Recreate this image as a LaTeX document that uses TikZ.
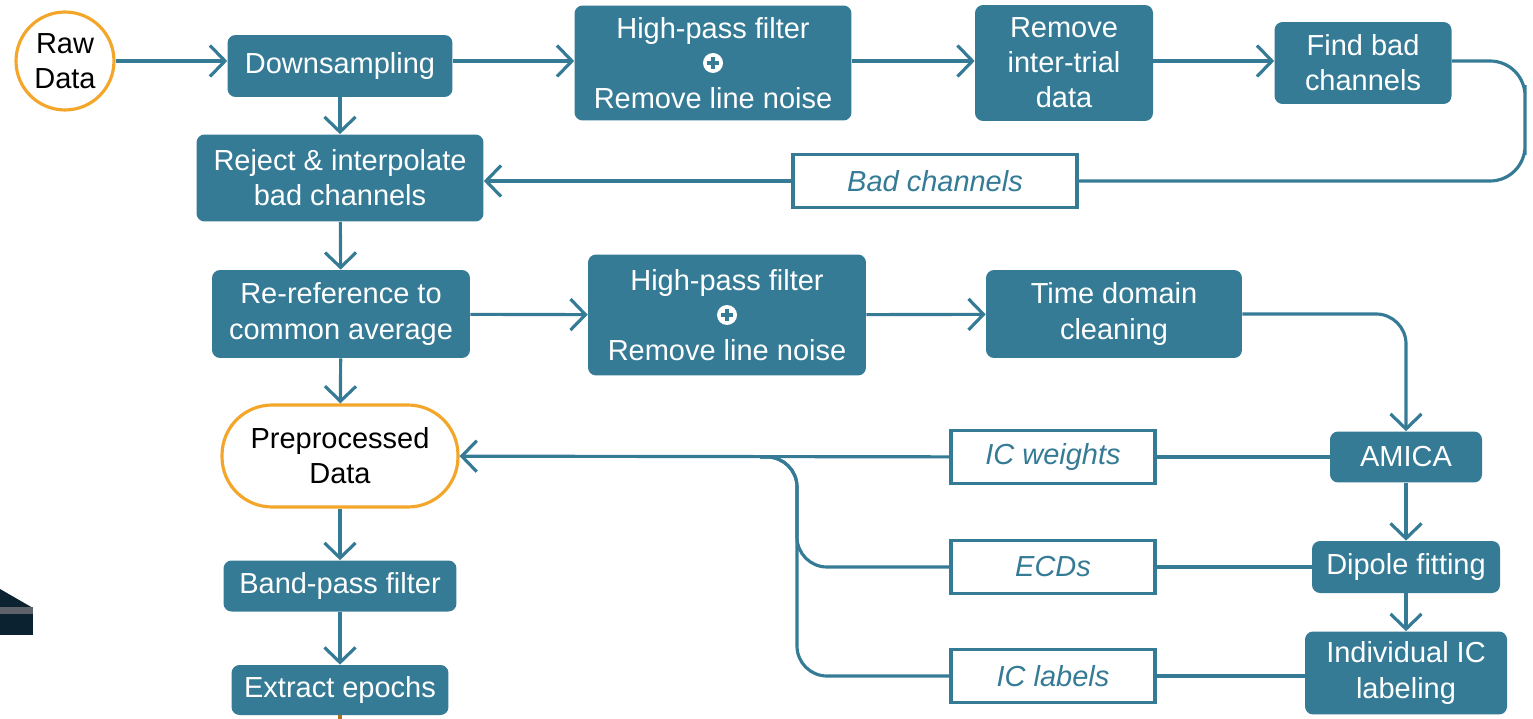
\documentclass[tikz,border=0pt]{standalone}
\usepackage{fontspec}
\setmainfont{Liberation Sans}
\usetikzlibrary{arrows.meta}

\definecolor{teal}{HTML}{357B96}
\definecolor{gold}{HTML}{F4A62A}
\definecolor{navy}{HTML}{0B2231}

\tikzset{
	txt/.style={font=\fontsize{16.5}{20}\selectfont, align=center, inner sep=2pt},
	stage/.style={txt, fill=teal, text=white, rounded corners=0.16cm},
	datum/.style={txt, draw=teal, line width=1.8pt, fill=white, text=teal, font=\fontsize{16.5}{20}\selectfont\itshape, minimum width=4.08cm, minimum height=1.06cm},
	source/.style={txt, draw=gold, line width=1.8pt, fill=white, text=black},
	line/.style={draw=teal, line width=1.8pt},
	flow/.style={line, arrows={-Straight Barb[length=0.3cm,width=0.62cm]}},
	plusmark/.style={circle, fill=white, minimum size=0.4cm, inner sep=0pt,
		path picture={\draw[teal, line width=2pt] ([xshift=-0.12cm]path picture bounding box.center) -- ([xshift=0.12cm]path picture bounding box.center) ([yshift=-0.12cm]path picture bounding box.center) -- ([yshift=0.12cm]path picture bounding box.center);}}
}

\begin{document}
\begin{tikzpicture}[x=0.02cm, y=-0.02cm]
	\useasboundingbox (0,0) rectangle (1533,719);
	\node [source, circle, minimum size=1.96cm] (raw) at (65,61) {Raw\\Data};
	\node [stage, minimum width=4.5cm, minimum height=1.24cm] (down) at (340,66) {Downsampling};
	\node [stage, minimum width=5.54cm, minimum height=2.3cm] (hpA) at (713,63) {High-pass filter\\[20pt]Remove line noise};
	\node [plusmark] (hpAplus) at (hpA.center) {};
	\node [stage, minimum width=3.56cm, minimum height=2.32cm] (trial) at (1064,63) {Remove\\inter-trial\\data};
	\node [stage, minimum width=3.54cm, minimum height=1.64cm] (findbad) at (1363,63) {Find bad\\channels};
	\node [datum, minimum width=5.68cm] (badch) at (935,181) {Bad channels};
	\node [stage, minimum width=5.74cm, minimum height=1.74cm] (reject) at (340,178) {Reject \& interpolate\\bad channels};
	\node [stage, minimum width=5.16cm, minimum height=1.76cm] (reref) at (341,314) {Re-reference to\\common average};
	\node [stage, minimum width=5.56cm, minimum height=2.42cm] (hpB) at (727,315) {High-pass filter\\[20pt]Remove line noise};
	\node [plusmark] (hpBplus) at (hpB.center) {};
	\node [stage, minimum width=5.12cm, minimum height=1.76cm] (tdc) at (1114,314) {Time domain\\cleaning};
	\node [source, rounded corners=1cm, minimum width=4.72cm, minimum height=2.04cm] (pre) at (340,456) {Preprocessed\\Data};
	\node [stage, minimum width=3.04cm, minimum height=1.02cm] (amica) at (1406,457) {AMICA};
	\node [stage, minimum width=3.76cm, minimum height=1.04cm] (dipole) at (1406,567) {Dipole fitting};
	\node [stage, minimum width=4.04cm, minimum height=1.66cm] (indiv) at (1406,673) {Individual IC\\labeling};
	\node [datum] (icw) at (1053,457) {IC weights};
	\node [datum] (ecd) at (1053,567) {ECDs};
	\node [datum] (icl) at (1053,676) {IC labels};
	\node [stage, minimum width=4.66cm, minimum height=1.02cm] (band) at (340,586) {Band-pass filter};
	\node [stage, minimum width=4.34cm, minimum height=1.0cm] (epochs) at (340,690) {Extract epochs};
	\coordinate (fbturn) at (1525,120);
	\coordinate (join) at (797,457);
	\coordinate (joinend) at (760,457);
	\coordinate (epend) at (340,719);

	\draw [flow] (raw.east) -- (down.west |- raw.east);
	\draw [flow] (down.east |- raw.east) -- (hpA.west |- raw.east);
	\draw [flow] (hpA.east |- raw.east) -- (trial.west |- raw.east);
	\draw [flow] (trial.east |- raw.east) -- (findbad.west |- raw.east);
	\draw [line, rounded corners=0.7cm] (findbad.east |- raw.east) -| (fbturn) |- (badch.east);
	\draw [flow] (badch.west) -- (reject.east |- badch.west);
	\draw [flow] (down) -- (reject);
	\draw [flow] (reject) -- (reref);
	\draw [flow] (reref) -- (hpB);
	\draw [flow] (hpB) -- (tdc);
	\draw [flow, rounded corners=0.6cm] (tdc.east) -| (amica.north);
	\draw [line] (amica) -- (icw);
	\draw [flow] (icw) -- (pre);
	\draw [flow] (amica) -- (dipole);
	\draw [flow] (dipole) -- (indiv);
	\draw [line] (dipole) -- (ecd);
	\draw [line] (indiv.west |- icl) -- (icl);
	\draw [line, rounded corners=0.6cm] (ecd.west) -| (join) -- (joinend);
	\draw [line, rounded corners=0.6cm] (icl.west) -| (join) -- (joinend);
	\draw [flow] (reref) -- (pre);
	\draw [flow] (pre) -- (band);
	\draw [flow] (band) -- (epochs);
	\draw [line, draw=gold!70!black] (epochs.south) -- (epend);

	\fill [navy] (0,589) -- (33,608) -- (0,608) -- cycle;
	\fill [gray!70!navy] (0,607) rectangle (33,614);
	\fill [navy] (0,614) rectangle (33,635);
\end{tikzpicture}
\end{document}
